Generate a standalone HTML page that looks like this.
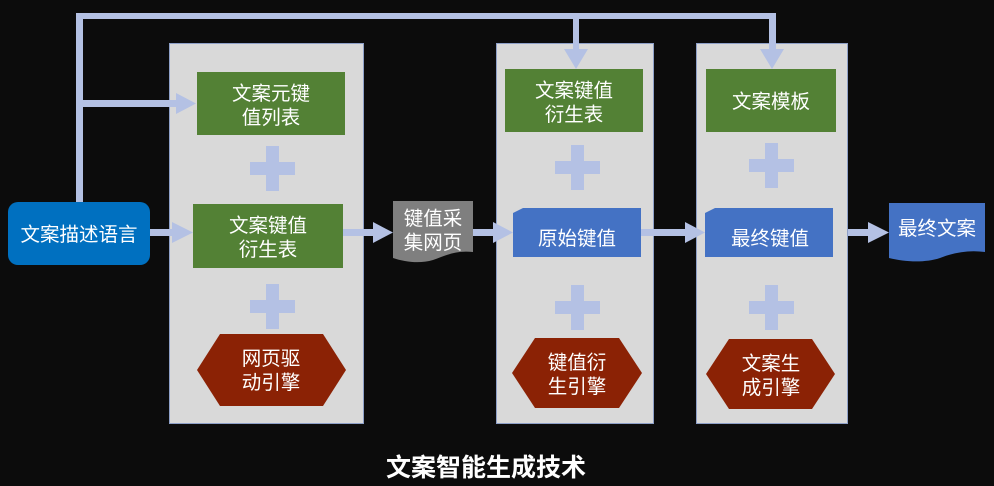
<!DOCTYPE html>
<html><head><meta charset="utf-8"><style>
html,body{margin:0;padding:0;background:#0c0c0c;}
svg{display:block}
text{font-family:"Liberation Sans","Noto Sans CJK SC",sans-serif;fill:#fff;}
</style></head><body>
<svg width="994" height="486" viewBox="0 0 994 486" xmlns="http://www.w3.org/2000/svg">
<rect width="994" height="486" fill="#0c0c0c"/>
<g fill="#d9d9d9" stroke="#8ea0c8" stroke-width="1">
<rect x="169.5" y="43.5" width="194" height="380"/>
<rect x="496.5" y="43.5" width="157" height="380"/>
<rect x="696.5" y="43.5" width="151" height="380"/>
</g>
<g fill="#b4c1e4">
<rect x="76" y="13" width="7" height="190"/>
<rect x="76" y="13" width="700" height="6"/>
<rect x="573" y="13" width="6" height="38"/>
<polygon points="564,49 588,49 576,69"/>
<rect x="769" y="13" width="7" height="38"/>
<polygon points="760,49 784,49 772,69"/>
<rect x="80" y="100" width="100" height="7"/>
<polygon points="176,93 196,103.5 176,114"/>
<rect x="150" y="229" width="25" height="7"/>
<polygon points="172,222 193,232.5 172,243"/>
<rect x="343" y="229" width="32" height="7"/>
<polygon points="373,222 393,232.5 373,243"/>
<rect x="473" y="229" width="22" height="7"/>
<polygon points="493,222 513,232.5 493,243"/>
<rect x="641" y="229" width="46" height="7"/>
<polygon points="685,222 705,232.5 685,243"/>
<rect x="848" y="229" width="22" height="7"/>
<polygon points="868,222 889,232.5 868,243"/>
<rect x="266" y="146" width="13" height="45"/><rect x="250" y="162" width="45" height="13"/>
<rect x="266" y="284" width="13" height="45"/><rect x="250" y="300" width="45" height="13"/>
<rect x="571" y="145" width="13" height="45"/><rect x="555" y="161" width="45" height="13"/>
<rect x="571" y="285" width="13" height="45"/><rect x="555" y="301" width="45" height="13"/>
<rect x="765" y="143" width="13" height="45"/><rect x="749" y="159" width="45" height="13"/>
<rect x="765" y="285" width="13" height="45"/><rect x="749" y="301" width="45" height="13"/>
</g>
<rect x="8" y="202" width="142" height="63" rx="10" fill="#0070c0"/>
<text x="79" y="241" font-size="19.5" text-anchor="middle">文案描述语言</text>
<g fill="#538135">
<rect x="197" y="72" width="148" height="63"/>
<rect x="193" y="204" width="150" height="64"/>
<rect x="505" y="69" width="138" height="63"/>
<rect x="706" y="69" width="130" height="63"/>
</g>
<g font-size="19.5" text-anchor="middle">
<text x="271" y="100">文案元键</text><text x="271" y="124">值列表</text>
<text x="268" y="232">文案键值</text><text x="268" y="256">衍生表</text>
<text x="574" y="97">文案键值</text><text x="574" y="121">衍生表</text>
<text x="771" y="108">文案模板</text>
</g>
<path d="M393,201 H473 V252 C455,250 445,256 433,260 C420,264 405,262 393,258 Z" fill="#7f7f7f"/>
<text x="433" y="225" font-size="19.5" text-anchor="middle">键值采</text>
<text x="433" y="249" font-size="19.5" text-anchor="middle">集网页</text>
<path d="M523,208 H641 V257 H513 V213 Z" fill="#4472c4"/>
<text x="577" y="245" font-size="19.5" text-anchor="middle">原始键值</text>
<path d="M715,208 H833 V257 H705 V213 Z" fill="#4472c4"/>
<text x="770" y="245" font-size="19.5" text-anchor="middle">最终键值</text>
<path d="M889,203 H985 V252 C970,250 955,252 940,258 C925,263 905,262 889,258 Z" fill="#4472c4"/>
<text x="937" y="235" font-size="19.5" text-anchor="middle">最终文案</text>
<g fill="#8b2205">
<polygon points="220,334 323,334 346,370 323,406 220,406 197,370"/>
<polygon points="535,338 619,338 642,373 619,408 535,408 512,373"/>
<polygon points="729,339 812,339 835,374 812,409 729,409 706,374"/>
</g>
<g font-size="19.5" text-anchor="middle">
<text x="271" y="365">网页驱</text><text x="271" y="389">动引擎</text>
<text x="577" y="369">键值衍</text><text x="577" y="393">生引擎</text>
<text x="771" y="370">文案生</text><text x="771" y="394">成引擎</text>
</g>
<text x="486" y="476" font-size="25" font-weight="bold" text-anchor="middle">文案智能生成技术</text>
</svg>
</body></html>
